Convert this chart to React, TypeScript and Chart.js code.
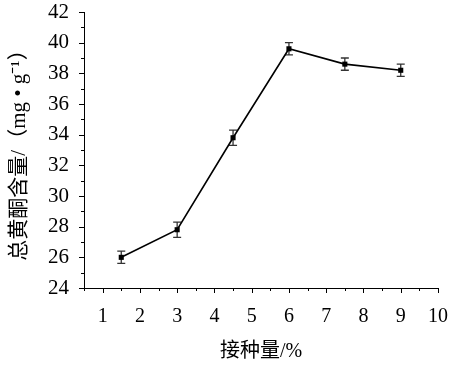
import React, { useEffect, useRef } from "react";
import { Chart, registerables } from "chart.js";

Chart.register(...registerables);

const inoculum = [1.5, 3, 4.5, 6, 7.5, 9];
const flavonoid = [26.0, 27.8, 33.8, 39.6, 38.6, 38.2];
const errors = [0.4, 0.5, 0.5, 0.4, 0.4, 0.4];

const xTitle = "接种量/%";
const yTitle = "总黄酮含量/（mg • g⁻¹）";
const xRange = [0.5, 10];
const yRange = [24, 42];

const FONT = "'Liberation Serif', 'Noto Sans CJK SC', serif";

const errorBarPlugin = {
  id: "errorBars",
  beforeDatasetsDraw(chart: any) {
    const ctx = chart.ctx;
    const xs = chart.scales.x;
    const ys = chart.scales.y;
    ctx.save();
    ctx.strokeStyle = "#333";
    ctx.lineWidth = 1.3;
    inoculum.forEach((xv, i) => {
      const px = xs.getPixelForValue(xv);
      const top = ys.getPixelForValue(flavonoid[i] + errors[i]);
      const bot = ys.getPixelForValue(flavonoid[i] - errors[i]);
      ctx.beginPath();
      ctx.moveTo(px, top);
      ctx.lineTo(px, bot);
      ctx.moveTo(px - 4, top);
      ctx.lineTo(px + 4, top);
      ctx.moveTo(px - 4, bot);
      ctx.lineTo(px + 4, bot);
      ctx.stroke();
    });
    ctx.restore();
  },
};

const tickPlugin = {
  id: "tickMarks",
  afterDraw(chart: any) {
    const ctx = chart.ctx;
    const xs = chart.scales.x;
    const ys = chart.scales.y;
    const area = chart.chartArea;
    ctx.save();
    ctx.strokeStyle = "#000";
    ctx.lineWidth = 1;
    ctx.beginPath();
    xs.ticks.forEach((t: any) => {
      const px = Math.round(xs.getPixelForValue(t.value)) + 0.5;
      const major = Math.abs(t.value - Math.round(t.value)) < 1e-6;
      const len = major ? 5 : 3;
      ctx.moveTo(px, area.bottom);
      ctx.lineTo(px, area.bottom + len);
    });
    ys.ticks.forEach((t: any) => {
      const py = Math.round(ys.getPixelForValue(t.value)) + 0.5;
      const major = Math.round(t.value) % 2 === 0;
      const len = major ? 5 : 3;
      ctx.moveTo(area.left, py);
      ctx.lineTo(area.left - len, py);
    });
    ctx.stroke();
    ctx.restore();
  },
};

export default function App() {
  const ref = useRef<HTMLCanvasElement>(null);
  useEffect(() => {
    if (!ref.current) return;
    const chart = new Chart(ref.current, {
      type: "scatter",
      data: {
        datasets: [
          {
            data: inoculum.map((x, i) => ({ x, y: flavonoid[i] })),
            showLine: true,
            borderColor: "#000",
            borderWidth: 1.6,
            backgroundColor: "#000",
            pointStyle: "rect",
            pointRadius: 3.6,
            pointBorderWidth: 0,
          },
        ],
      },
      options: {
        responsive: false,
        animation: false,
        layout: { padding: { top: 12, right: 14, left: 0, bottom: 0 } },
        plugins: { legend: { display: false }, tooltip: { enabled: false } },
        scales: {
          x: {
            type: "linear",
            min: xRange[0],
            max: xRange[1],
            afterFit: (s: any) => {
              s.height = 79;
              s.paddingLeft = 0;
              s.paddingRight = 0;
            },
            ticks: {
              stepSize: 0.5,
              autoSkip: false,
              maxRotation: 0,
              color: "#000",
              padding: 12,
              font: { family: FONT, size: 20 },
              callback: (v: any) => (Math.abs(v - Math.round(v)) < 1e-6 ? String(Math.round(v)) : ""),
            },
            grid: { display: true, drawOnChartArea: false, color: "transparent", tickLength: 5 },
            border: { display: true, color: "#000", width: 1 },
            title: { display: true, text: xTitle, color: "#000", font: { family: FONT, size: 20 }, padding: 3 },
          },
          y: {
            type: "linear",
            min: yRange[0],
            max: yRange[1],
            afterFit: (s: any) => {
              s.width = 84;
              s.paddingTop = 0;
              s.paddingBottom = 0;
            },
            ticks: {
              stepSize: 1,
              autoSkip: false,
              color: "#000",
              padding: 10,
              font: { family: FONT, size: 21 },
              callback: (v: any) => (Math.round(v) % 2 === 0 ? String(v) : ""),
            },
            grid: { display: true, drawOnChartArea: false, color: "transparent", tickLength: 5 },
            border: { display: true, color: "#000", width: 1 },
            title: { display: true, text: yTitle, color: "#000", font: { family: FONT, size: 21 }, padding: 7 },
          },
        },
      },
      plugins: [errorBarPlugin, tickPlugin],
    } as any);
    return () => chart.destroy();
  }, []);
  return (
    <div style={{ position: "absolute", top: 0, left: 0, width: 452, height: 367, background: "#fff" }}>
      <canvas ref={ref} width={452} height={367} />
    </div>
  );
}
